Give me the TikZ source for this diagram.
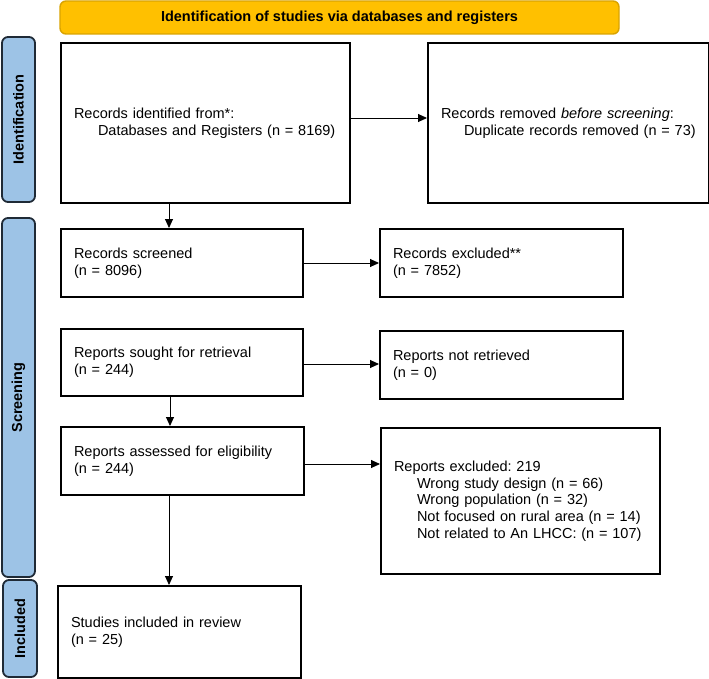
\documentclass[tikz,border=0pt]{standalone}
\usepackage{fontspec}
\setmainfont{Liberation Sans}
\usetikzlibrary{arrows.meta}
\definecolor{hdrfill}{HTML}{FFC000}
\definecolor{hdrline}{HTML}{D9A300}
\definecolor{sidefill}{HTML}{9DC3E6}
\definecolor{sideline}{HTML}{1F2A36}
\frenchspacing
\begin{document}
\frenchspacing
\begin{tikzpicture}[x=1pt,y=-1pt,
  txt/.style={font=\fontsize{14.5}{16.7}\selectfont},
  box/.style={txt, draw=black, line width=2pt, fill=white, align=left,
    inner xsep=13pt, inner ysep=0pt, anchor=north west},
  sidelab/.style={draw=sideline, fill=sidefill, line width=1.8pt, rounded corners=6pt,
    rotate=90, font=\bfseries\fontsize{14.5}{16.7}\selectfont, inner sep=0pt},
  arr/.style={draw=black, line width=0.9pt, -{Triangle[length=9pt,width=8pt]}}
]
\useasboundingbox (0,0) rectangle (709,679);

% header
\node[draw=hdrline, fill=hdrfill, line width=1.4pt, rounded corners=6pt,
  minimum width=559pt, minimum height=33pt, inner sep=0pt,
  font=\bfseries\fontsize{14.5}{16.7}\selectfont] (hdr) at (339.5,17.5)
  {Identification of studies via databases and registers};

% side labels
\node[sidelab, minimum width=165pt, minimum height=33pt] (sid) at (18.5,119.5) {Identification};
\node[sidelab, minimum width=359pt, minimum height=33pt] (sscr) at (18.5,397.5) {Screening};
\node[sidelab, minimum width=97pt, minimum height=34pt] (sinc) at (20,628.5) {Included};

% boxes
\node[box, minimum width=289pt, minimum height=160pt, text width=263pt] (id) at (60,42)
  {Records identified from*:\\\hspace*{24pt}Databases and Registers (n = 8169)};
\node[box, minimum width=281pt, minimum height=160pt, text width=255pt] (rem) at (427,42)
  {Records removed \textit{before screening}:\\\hspace*{23pt}Duplicate records removed (n = 73)};

\node[box, minimum width=242pt, minimum height=68pt, text width=216pt] (scr) at (60,228)
  {Records screened\\(n = 8096)};
\node[box, minimum width=243pt, minimum height=68pt, text width=217pt] (exc) at (379,228)
  {Records excluded**\\(n = 7852)};

\node[box, minimum width=242pt, minimum height=67pt, text width=216pt] (sou) at (60,328)
  {Reports sought for retrieval\\(n = 244)};
\node[box, minimum width=243pt, minimum height=68pt, text width=217pt] (nr) at (379,330)
  {Reports not retrieved\\(n = 0)};

\node[box, minimum width=243pt, minimum height=68pt, text width=217pt] (ass) at (60,426)
  {Reports assessed for eligibility\\(n = 244)};
\node[box, minimum width=279pt, minimum height=146pt, text width=253pt] (rex) at (380,427)
  {Reports excluded: 219\\
   \hspace*{23pt}Wrong study design (n = 66)\\
   \hspace*{23pt}Wrong population (n = 32)\\
   \hspace*{23pt}Not focused on rural area (n = 14)\\
   \hspace*{23pt}Not related to An LHCC: (n = 107)};

\node[box, minimum width=243pt, minimum height=92pt, text width=217pt] (inc) at (57,585)
  {Studies included in review\\(n = 25)};

% connectors
\coordinate (c1) at ([xshift=-13pt]scr.north);
\draw[arr] (id.south -| c1) -- (c1);
\coordinate (c2) at ([xshift=-12.5pt]ass.north);
\draw[arr] (sou.south -| c2) -- (c2);
\coordinate (c3) at ([xshift=-10.5pt]inc.north);
\draw[arr] (ass.south -| c3) -- (c3);

\coordinate (h1) at ([yshift=5pt]id.east);
\draw[arr] (h1) -- (h1 -| rem.west);
\draw[arr] (scr.east) -- (scr.east -| exc.west);
\coordinate (h2) at ([yshift=-1.5pt]sou.east);
\draw[arr] (h2) -- (h2 -| nr.west);
\coordinate (h3) at ([yshift=-3pt]ass.east);
\draw[arr] (h3) -- (h3 -| rex.west);
\end{tikzpicture}
\end{document}
